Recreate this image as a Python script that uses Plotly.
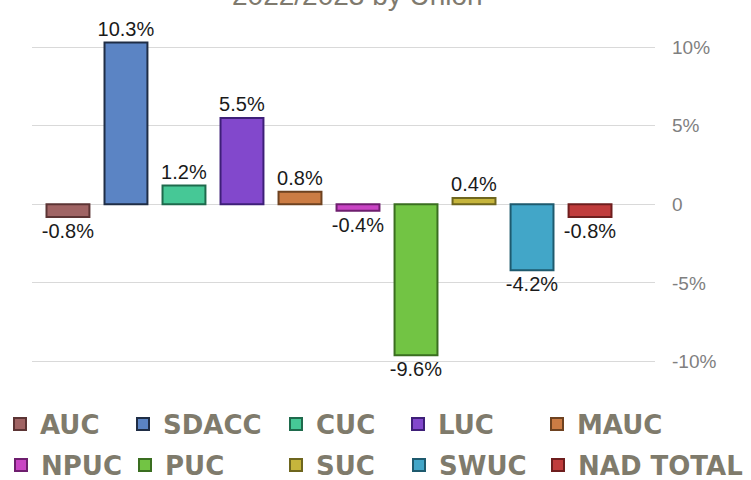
import plotly.graph_objects as go

categories = ["AUC", "SDACC", "CUC", "LUC", "MAUC", "NPUC", "PUC", "SUC", "SWUC", "NAD TOTAL"]
values = [-0.8, 10.3, 1.2, 5.5, 0.8, -0.4, -9.6, 0.4, -4.2, -0.8]
labels = ["-0.8%", "10.3%", "1.2%", "5.5%", "0.8%", "-0.4%", "-9.6%", "0.4%", "-4.2%", "-0.8%"]
colors = ["#a06464", "#5b84c4", "#46c896", "#8248cc", "#cc7c44", "#c944c4", "#72c444", "#c6b53c", "#42a6c8", "#c03c3c"]
edge_colors = ["#5c3434", "#1f2d45", "#1e6a4c", "#3e1f78", "#6e4220", "#6e1e6e", "#3a6e20", "#6e661e", "#1e5a6e", "#6e1e1e"]
tick_vals = [10, 5, 0, -5, -10]
tick_text = ["10%", "5%", "0", "-5%", "-10%"]
title_text = "2022/2023 by Union"

W, H = 751, 480
# legend slot positions (pixels from top-left), layout only
legend_px = [(0, 424), (123, 424), (276, 424), (398, 424), (537, 424),
             (1, 465), (125, 465), (276, 465), (399, 465), (538, 465)]

fig = go.Figure()
legend_font = dict(family="DejaVu Sans, Liberation Sans, sans-serif", size=26, color="#7f7b6c", weight="bold")
layout_legends = {}
for i, cat in enumerate(categories):
    lname = "legend" if i == 0 else f"legend{i + 1}"
    fig.add_trace(go.Bar(
        x=[i], y=[values[i]], name=cat,
        text=[labels[i]], textposition="outside", constraintext="none",
        textfont=dict(family="Liberation Sans, Arial, sans-serif", size=20, color="#1a1a1a"),
        marker=dict(color=colors[i], line=dict(color=edge_colors[i], width=2)),
        width=0.74, cliponaxis=False,
        legend=lname,
    ))
    lx, ly = legend_px[i]
    layout_legends[lname] = dict(orientation="h", x=lx / W, xref="container", xanchor="left",
                                 y=1 - ly / H, yref="container", yanchor="middle",
                                 font=legend_font, bgcolor="rgba(0,0,0,0)")

fig.update_layout(
    width=W, height=H,
    barmode="overlay",
    paper_bgcolor="white", plot_bgcolor="white",
    margin=dict(l=32, r=96, t=8, b=95, autoexpand=False),
    xaxis=dict(range=[-0.62, 10.12], showticklabels=False, showgrid=False,
               zeroline=False, showline=False, ticks=""),
    yaxis=dict(range=[-11.5, 12.5], side="right", tickvals=tick_vals, ticktext=tick_text,
               showgrid=True, gridcolor="#d9d9d9", gridwidth=1, zeroline=False,
               showline=False, ticks="", ticklabelstandoff=16,
               tickfont=dict(family="Liberation Sans, Arial, sans-serif", size=19, color="#7f7f7f")),
    showlegend=True,
    annotations=[dict(text=title_text, xref="paper", yref="paper", x=(357 - 32) / 623, y=1,
                      xanchor="center", yanchor="middle", yshift=13, showarrow=False,
                      font=dict(family="Liberation Sans, Arial, sans-serif", size=28, color="#7f7a6e"))],
    **layout_legends,
)

fig.write_html("out.html", config={"displayModeBar": False},
               post_script="document.body.style.margin='0px';")
